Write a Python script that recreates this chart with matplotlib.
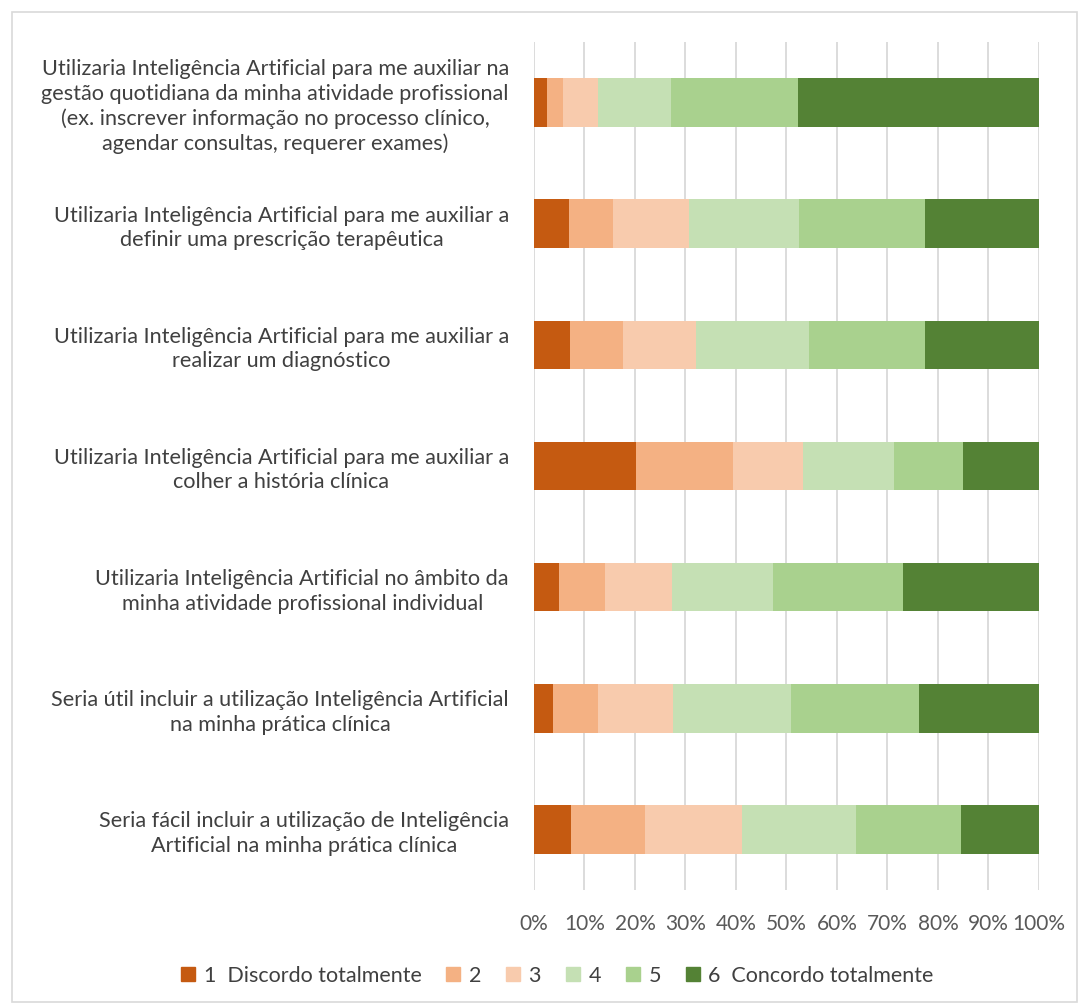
import matplotlib.pyplot as plt
import matplotlib.patches as mpatches
import numpy as np

plt.rcParams['font.family'] = ['Lato', 'DejaVu Sans']

questions = [
    "Utilizaria Inteligência Artificial para me auxiliar na\ngestão quotidiana da minha atividade profissional\n(ex. inscrever informação no processo clínico,\nagendar consultas, requerer exames)",
    "Utilizaria Inteligência Artificial para me auxiliar a\ndefinir uma prescrição terapêutica",
    "Utilizaria Inteligência Artificial para me auxiliar a\nrealizar um diagnóstico",
    "Utilizaria Inteligência Artificial para me auxiliar a\ncolher a história clínica",
    "Utilizaria Inteligência Artificial no âmbito da\nminha atividade profissional individual",
    "Seria útil incluir a utilização Inteligência Artificial\nna minha prática clínica",
    "Seria fácil incluir a utilização de Inteligência\nArtificial na minha prática clínica",
]

# percentage of answers per level (1..6), one list per question
level1 = [2.6, 7.0, 7.1, 20.3, 5.0, 3.8, 7.3]
level2 = [3.1, 8.7, 10.6, 19.1, 9.0, 8.9, 14.7]
level3 = [7.0, 15.0, 14.3, 13.9, 13.3, 14.9, 19.1]
level4 = [14.5, 21.7, 22.4, 18.0, 20.1, 23.3, 22.7]
level5 = [25.0, 25.1, 23.0, 13.6, 25.6, 25.3, 20.8]
level6 = [47.8, 22.5, 22.7, 15.2, 27.0, 23.8, 15.4]

levels = [level1, level2, level3, level4, level5, level6]
level_names = ["1  Discordo totalmente", "2", "3", "4", "5", "6  Concordo totalmente"]
colors = ["#C55A11", "#F4B183", "#F8CBAD", "#C5E0B4", "#A9D18E", "#548235"]

fig = plt.figure(figsize=(10.8, 10.05), dpi=100)
ax = fig.add_axes([0.4944, 0.1144, 0.4676, 0.8438])

y = np.arange(len(questions))
left = np.zeros(len(questions))
for vals, name, col in zip(levels, level_names, colors):
    vals = np.array(vals)
    ax.barh(y, vals, left=left, height=0.4, color=col, label=name, zorder=3)
    left += vals

ax.set_xlim(0, 100)
ax.set_ylim(len(questions) - 0.5, -0.5)
ax.set_xticks(np.arange(0, 101, 10))
ax.set_xticklabels([f"{v}%" for v in range(0, 101, 10)])
ax.set_yticks(y)
ax.set_yticklabels(questions)
for t in ax.get_yticklabels():
    t.set_multialignment('center')
    t.set_fontsize(15.6)
    t.set_linespacing(1.28)
    t.set_color('#404040')
ax.tick_params(axis='x', labelsize=15, labelcolor='#595959', length=0, pad=17)
ax.tick_params(axis='y', length=0, pad=18)
ax.grid(axis='x', color='#D9D9D9', linewidth=1.3, zorder=0)
for s in ax.spines.values():
    s.set_visible(False)

handles = [mpatches.Patch(color=c, label=n) for c, n in zip(colors, level_names)]
fig.legend(handles=handles, loc='center', bbox_to_anchor=(0.516, 0.029), ncol=6,
           frameon=False, fontsize=15.5, handlelength=0.65, handleheight=0.65,
           columnspacing=1.15, handletextpad=0.4, labelcolor='#404040')

# light frame round the whole chart
fig.patches.append(mpatches.Rectangle((0.011, 0.003), 0.986, 0.985, transform=fig.transFigure,
                                      fill=False, edgecolor='#D9D9D9', linewidth=1.2))

fig.savefig('out.png', dpi=100)
